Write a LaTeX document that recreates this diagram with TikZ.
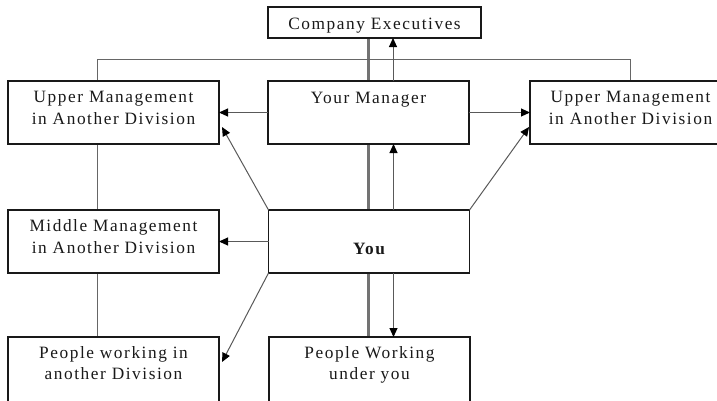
\documentclass[tikz,border=0pt]{standalone}
\usepackage{fontspec}
\setmainfont{Liberation Serif}[LetterSpace=9]
\usetikzlibrary{arrows.meta,calc,backgrounds}
\begin{document}
\begin{tikzpicture}[x=1pt,y=-1pt,
  box/.style={rectangle, draw=black!90, line width=1.3pt, fill=white, inner sep=0pt, outer sep=0pt},
  txt/.style={inner sep=0pt, anchor=base, text=black!90, font=\fontsize{17.3}{21}\selectfont},
  conn/.style={draw=black!60, line width=1pt},
  arr/.style={draw=black!65, line width=1pt, -{Triangle[length=9pt,width=8pt,color=black]}},
  spine/.style={draw=black!55, line width=3.5pt}]
\useasboundingbox (0,0) rectangle (717,400);
% boxes
\node[box, minimum width=213pt, minimum height=31pt] (exec) at (374.5,22.5) {};
\node[box, minimum width=201pt, minimum height=63pt] (mgr) at (368.5,112.5) {};
\node[box, minimum width=211pt, minimum height=63pt] (uml) at (113.5,112.5) {};
\node[box, minimum width=201pt, minimum height=63pt] (umr) at (630.5,112.5) {};
\node[box, minimum width=211pt, minimum height=63pt] (mml) at (113.5,241.5) {};
\node[box, minimum width=201pt, minimum height=63pt] (you) at (369,241.5) {};
\node[box, minimum width=211pt, minimum height=76pt] (pwl) at (113.5,375) {};
\node[box, minimum width=201pt, minimum height=76pt] (pwu) at (369.5,375) {};
% texts
\node[txt] (t-exec) at (374.5,29.5) {Company Executives};
\node[txt] (t-mgr) at (368.5,103.5) {Your Manager};
\node[txt] (t-uml1) at (113.5,102.5) {Upper Management};
\node[txt] (t-uml2) at (113.5,124.5) {in Another Division};
\node[txt] (t-umr1) at (630.5,102.5) {Upper Management};
\node[txt] (t-umr2) at (630.5,124.5) {in Another Division};
\node[txt] (t-mml1) at (113.5,231.5) {Middle Management};
\node[txt] (t-mml2) at (113.5,253) {in Another Division};
\node[txt, font=\fontsize{17.3}{21}\selectfont\bfseries] (t-you) at (369,254) {You};
\node[txt] (t-pwl1) at (113.5,358) {People working in};
\node[txt] (t-pwl2) at (113.5,379.5) {another Division};
\node[txt] (t-pwu1) at (369.5,358) {People Working};
\node[txt] (t-pwu2) at (369.5,379.5) {under you};
% background connectors
\begin{scope}[on background layer]
  \draw[spine] (exec.south -| mgr.center) -- (pwu.north -| mgr.center);
  \draw[conn] ([xshift=-16.5pt]uml.north) |- ($(exec.south)!0.5!(mgr.north)$) -| (umr.north);
  \draw[conn] ([xshift=-16.5pt]uml.south) -- ([xshift=-16.5pt]mml.north);
  \draw[conn] ([xshift=-16.5pt]mml.south) -- ([xshift=-16.5pt]pwl.north);
\end{scope}
% arrows
\draw[arr] ([xshift=24.5pt]mgr.north) -- ([xshift=24.5pt]mgr.north |- exec.south);
\draw[arr] ([xshift=24.5pt]you.north) -- ([xshift=24.5pt]you.north |- mgr.south);
\draw[arr] ([xshift=24.5pt]you.south) -- ([xshift=24.5pt]you.south |- pwu.north);
\draw[arr] (mgr.west) -- (uml.east);
\draw[arr] (mgr.east) -- (umr.west);
\draw[arr] (you.west) -- (mml.east);
\draw[arr] (you.north west) -- ($(uml.north east)+(3,46)$);
\draw[arr] (you.north east) -- ($(umr.north west)+(-1,46)$);
\draw[arr] (you.south west) -- ($(pwl.north east)+(3,25)$);
\end{tikzpicture}
\end{document}
